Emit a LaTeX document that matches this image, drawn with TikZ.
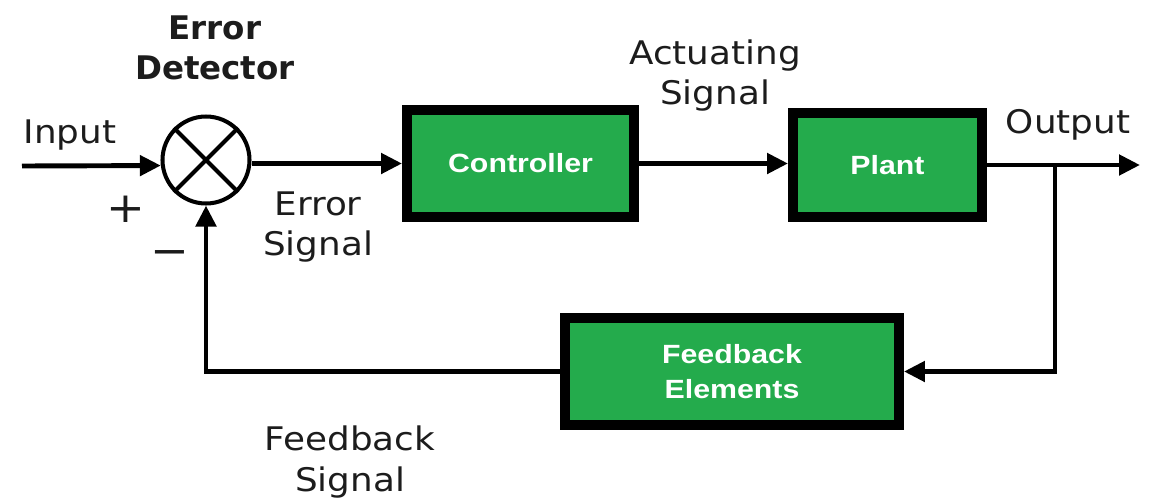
\documentclass[tikz,border=0pt]{standalone}
\usepackage{fontspec}
\setmainfont{DejaVu Sans}[FakeStretch=1.1]
\newfontfamily\detfont{DejaVu Sans}
\newfontfamily\blkfont{Liberation Sans}[FakeStretch=1.15]
\usetikzlibrary{arrows.meta}
\definecolor{blkgreen}{RGB}{36,171,76}
\definecolor{ink}{RGB}{28,28,28}
\newcommand{\lblsize}   {\fontsize{18.5}{22.8}\selectfont}
\newcommand{\blksize}   {\fontsize{15}{20}\selectfont}

\begin{document}
\begin{tikzpicture}[x=0.02cm,y=-0.02cm,
    blk/.style={draw=black,fill=blkgreen,line width=0.2cm,inner sep=0pt,
      text=white,font=\blkfont\blksize\bfseries,align=center},
    sig/.style={draw=black,line width=2.8pt,-{Triangle[length=4.2mm,width=4mm]}},
    lbl/.style={text=ink,font=\lblsize,align=center,inner sep=0pt}]
    \useasboundingbox (0,0) rectangle (1154,504);
    % error detector
    \node[circle,draw=black,line width=2.3pt,minimum size=1.74cm,inner sep=0pt] (sum) at (206,160) {};
    \draw[line width=2.3pt] (sum.45) -- (sum.225);
    \draw[line width=2.3pt] (sum.135) -- (sum.315);
    % blocks
    \node[blk,minimum width=4.54cm,minimum height=2.14cm] (ctrl)  at (520.5,163.5) {Controller};
    \node[blk,minimum width=3.78cm,minimum height=2.08cm] (plant) at (887.5,165)   {Plant};
    \node[blk,minimum width=6.68cm,minimum height=2.14cm] (fb)    at (732,371.5)   {Feedback\\Elements};
    % free ends
    \coordinate (in)  at (22,166);
    \coordinate (out) at (1140,165);
    \coordinate (br)  at (1055,165);
    % signals
    \draw[sig] (in) -- (sum.187);
    \draw[sig] (ctrl.west -| sum.east) -- (ctrl.west);
    \draw[sig] (ctrl.east) -- (plant.west |- ctrl.east);
    \draw[sig] (plant.east) -- (out);
    \draw[sig] (br) |- (fb.east);
    \draw[sig] (fb.west) -| (sum.south);
    % labels
    \node[lbl,font=\detfont\lblsize\bfseries] (det) at (215,48) {Error\\Detector};
    \node[lbl] (inlbl)  at (70,135)   {Input};
    \node[lbl,font=\fontsize{24}{24}\selectfont] (plus)  at (126,209) {+};
    \node[lbl,font=\fontsize{24}{24}\selectfont] (minus) at (170,258) {−};
    \node[lbl] (errlbl) at (318,227)  {Error\\Signal};
    \node[lbl] (actlbl) at (715,76)   {Actuating\\Signal};
    \node[lbl] (outlbl) at (1068,125) {Output};
    \node[lbl] (fblbl)  at (350,462)  {Feedback\\Signal};
\end{tikzpicture}
\end{document}
